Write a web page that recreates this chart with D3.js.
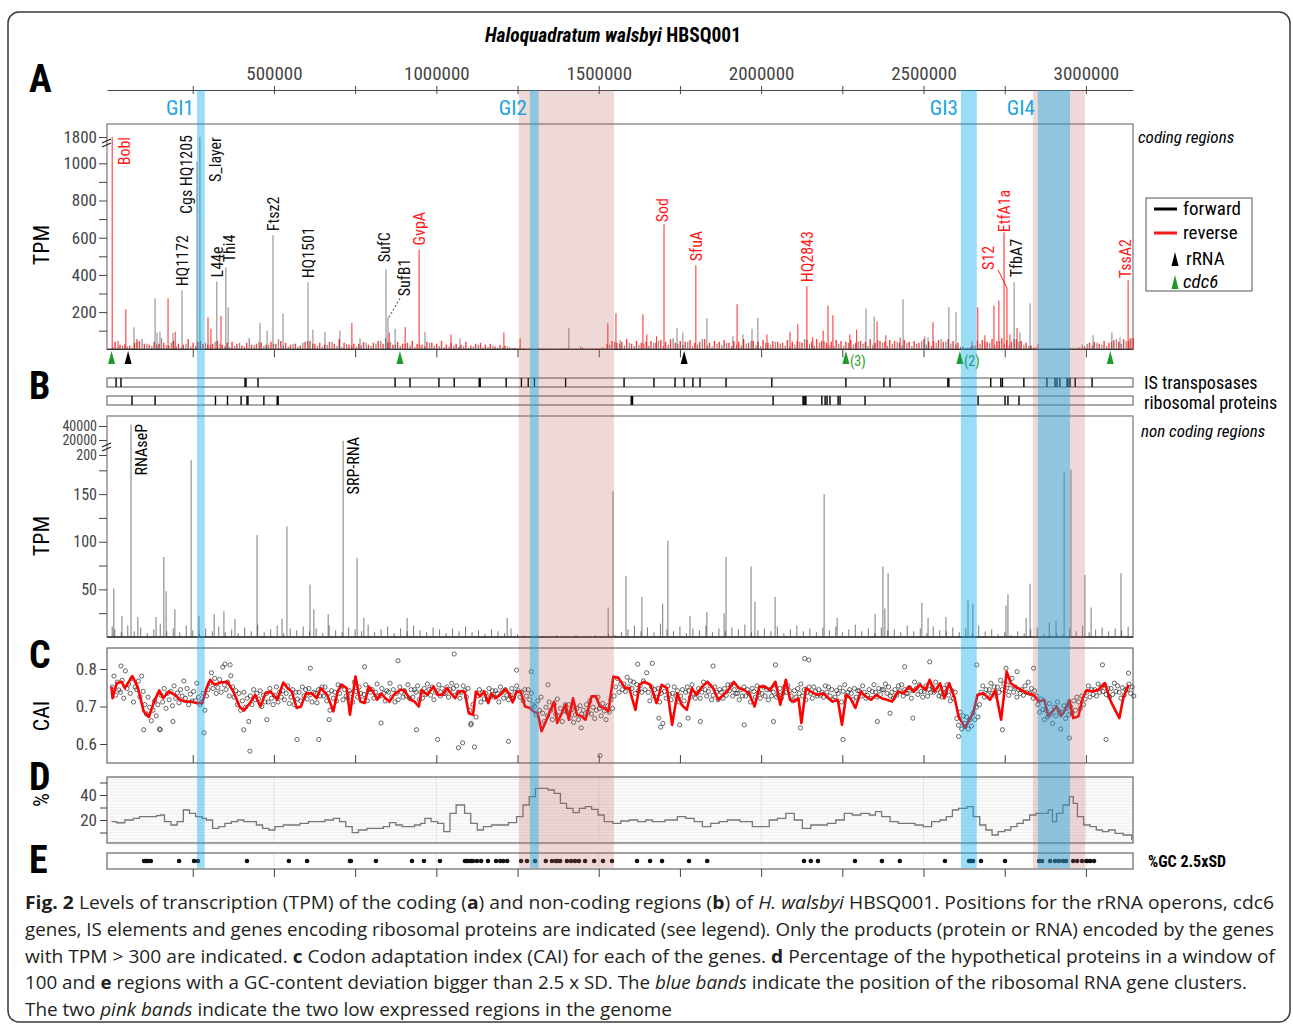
<!DOCTYPE html>
<html>
<head>
<meta charset="utf-8">
<script src="https://cdn.jsdelivr.net/npm/d3@7"></script>
<style>
  body { margin: 0; background: #fff; }
  svg text { font-family: "Liberation Sans Narrow", "Arial Narrow", "Roboto Condensed", sans-serif; }
  svg text.cap { font-family: "Open Sans", sans-serif; white-space: pre; }
</style>
</head>
<body>
<svg id="fig" width="1293" height="1025"></svg>
<script>
// ---- data (positions in kb) ----
const blueBands = [["GI1", 263, 287], ["GI2", 1288, 1315], ["GI3", 2615, 2664], ["GI4", 2852, 2951]];
const pinkBands = [[1254, 1547], [2837, 2997]];

// low level coding TPM, one value per 15 kb bin
const fwdLow = [12,8,20,15,10,40,55,30,18,25, 60,22,35,18,10,30,15,20,45,35, 25,40,30,18,12,20,35,15,60,22,
  40,18,25,30,55,20,15,28,12,35, 45,30,20,15,25,40,18,12,30,20, 15,22,35,18,28,45,60,40,25,18,
  30,20,12,25,15,35,20,18,10,15, 22,12,18,8,15,25,10,12,20,8, 10,15,6,4,3,2,5,3,2,4,
  3,2,4,6,2,3,15,4,3,5, 4,8,25,40,30,22,35,18,25,30, 20,35,45,18,25,60,30,22,40,18,
  25,55,20,15,30,22,35,18,25,20, 30,45,22,18,35,25,40,30,20,15, 25,40,55,30,20,35,45,25,18,30,
  20,35,25,40,30,18,25,50,35,20, 28,40,22,35,18,30,45,25,20,35, 55,40,30,25,15,8,12,20,30,40,
  35,25,45,30,20,55,40,25,18,10, 5,4,6,3,8,5,4,6,10,25, 30,20,35,25,18,40,55,30,45,60];
const revLow = [40,25,30,20,35,45,30,25,40,30, 35,20,45,30,25,55,35,40,30,25, 30,45,25,35,40,30,20,35,25,30,
  35,25,40,30,45,35,25,30,20,40, 45,30,35,25,40,30,55,35,25,30, 30,40,25,35,45,30,35,25,40,30,
  35,45,30,25,40,35,30,45,25,35, 30,25,40,20,30,35,25,30,15,25, 20,10,8,6,5,4,3,5,4,3,
  4,3,6,5,3,4,8,5,4,6, 10,30,45,35,40,55,30,45,35,40, 45,35,50,40,55,35,45,40,50,35,
  40,55,35,45,40,50,35,45,40,55, 35,45,40,50,35,45,40,35,50,40, 45,35,50,40,55,45,35,40,50,45,
  40,50,35,45,40,55,35,45,40,50, 45,35,50,40,45,35,55,40,45,50, 40,55,45,35,15,8,20,45,50,40,
  55,45,60,50,40,55,45,35,20,10, 6,5,8,4,6,5,7,4,8,15, 35,40,30,45,35,50,40,55,45,60];

// taller coding genes: [kb, TPM, strand 0=forward 1=reverse]
const peaks = [[2,1800,1],[20,45,1],[44,215,1],[69,118,0],[78,55,1],[134,274,0],[140,90,0],[149,95,0],[174,274,1],
  [189,88,0],[196,95,1],[217,317,0],[263,1050,0],[272,1800,0],[297,172,1],[306,110,1],[324,365,0],[337,180,1],
  [352,441,0],[359,226,0],[457,142,0],[479,100,0],[497,613,0],[528,193,0],[605,360,0],[620,105,0],[657,95,0],
  [703,100,0],[740,142,1],[765,60,0],[845,430,0],[851,172,0],[855,90,1],[873,110,0],[904,120,1],[947,537,1],
  [965,95,0],[1045,80,1],[1073,60,0],[1208,90,1],[1258,60,1],[1408,113,0],[1528,140,1],[1553,194,1],[1566,50,0],
  [1636,188,1],[1648,80,1],[1678,70,1],[1701,672,1],[1741,115,0],[1759,90,0],[1799,452,1],[1833,167,0],[1913,70,0],
  [1926,242,1],[1944,80,0],[1972,110,0],[1990,170,0],[2018,80,1],[2089,95,1],[2113,135,1],[2141,339,1],[2159,65,1],
  [2191,100,1],[2206,236,1],[2221,183,1],[2273,80,1],[2294,105,1],[2323,220,0],[2348,177,0],[2357,150,1],[2384,75,1],
  [2428,65,1],[2437,269,0],[2504,70,0],[2514,65,0],[2529,145,1],[2578,226,0],[2600,199,0],[2649,40,1],[2667,226,1],
  [2689,75,1],[2717,236,1],[2732,263,1],[2748,355,1],[2757,330,1],[2766,80,1],[2779,360,0],[2788,115,1],[2797,90,0],
  [2828,247,0],[2853,30,1],[3022,75,0],[3080,90,0],[3105,65,0],[3130,371,1],[3136,60,1]];

// gene names with TPM > 300: [name, kb, TPM, strand]
const geneLabels = [["Bobl",2,1800,1],["Cgs HQ1205",263,1050,0],["S_layer",272,1800,0],["HQ1172",217,317,0],
  ["L44e",324,365,0],["Thi4",352,441,0],["Ftsz2",497,613,0],["HQ1501",605,360,0],["SufC",845,430,0],
  ["SufB1",851,172,0],["GvpA",947,537,1],["Sod",1701,672,1],["SfuA",1799,452,1],["HQ2843",2141,339,1],
  ["S12",2757,330,1],["EtfA1a",2748,355,1],["TfbA7",2779,360,0],["TssA2",3130,371,1]];

const rRNA = [51, 1763];
const cdc6 = [[0,""],[888,""],[2261,"(3)"],[2612,"(2)"],[3075,""]];

const isGenes = [14,29,411,414,451,873,919,1008,1055,1132,1135,1215,1262,1283,1302,1398,1578,1670,1735,1763,1790,1812,
  1892,2033,2261,2378,2397,2575,2578,2707,2738,2743,2809,2880,2905,2911,2920,2942,2945,2951,2967,3019];
const riboGenes = [63,134,320,357,399,417,420,469,510,513,1600,1604,2037,2129,2132,2135,2138,2187,2197,2203,2212,
  2237,2243,2320,2668,2751,2760,2794];

// non coding TPM
const ncPeaks = [[2,11],[7,51],[32,22],[60,42000],[81,21],[137,21],[161,84],[168,48],[195,29],[245,192],[269,22],
  [316,24],[346,27],[380,19],[448,107],[525,19],[540,116],[611,55],[623,29],[667,24],[713,19000],[756,83],[777,20],
  [910,20],[1218,20],[1529,31],[1544,153],[1584,64],[1633,42],[1697,35],[1713,101],[1781,22],[1833,26],[1886,25],
  [1892,84],[1969,74],[1981,37],[2043,42],[2194,150],[2234,20],[2351,24],[2375,74],[2381,30],[2391,67],[2495,36],
  [2514,20],[2569,21],[2637,39],[2652,35],[2754,33],[2760,45],[2816,20],[2828,56],[2887,15],[2908,17],[2933,173],
  [2954,176],[2997,65],[3016,31],[3108,67]];
const ncLow = [8,5,12,6,10,4,8,14,6,9, 5,12,7,4,9,6,11,5,8,4, 10,6,13,5,8,12,4,9,7,11, 6,9,4,12,7,5,10,8,6,13,
  5,8,11,4,9,6,12,7,5,10, 8,4,9,6,11,5,7,3,8,6, 4,9,3,2,1,2,1,0,2,1, 1,2,0,1,2,1,3,2,5,8,
  12,6,10,5,14,8,6,11,4,9, 7,12,5,9,6,10,8,13,5,7, 9,6,11,4,8,12,6,9,5,10, 7,11,5,8,13,6,9,4,10,7,
  8,5,12,6,9,4,11,7,6,10, 5,9,4,12,6,8,3,5,2,6, 4,8,10,3,2,4,3,9,6,12, 5,8,10,6,9,7,11];
const ncLabels = [["RNAseP",60],["SRP-RNA",713]];

// CAI per gene, 5 genes per 25 kb bin (x1000)
const caiCloud = [752,781,730,765,744, 738,770,722,795,748, 760,735,775,712,752, 745,768,726,781,740,
  705,680,725,698,662, 690,715,675,705,640, 730,712,748,695,735, 718,740,702,755,722, 736,710,745,728,768,
  722,748,705,733,715, 740,715,762,725,705, 712,735,690,728,745, 762,790,748,775,735, 750,772,738,805,758,
  745,765,728,782,752, 725,742,705,735,690, 715,738,698,722,660, 728,705,745,718,735, 720,742,700,730,712,
  735,712,748,722,705, 730,752,712,738,725, 742,718,735,755,708, 725,745,705,738,720, 738,715,752,728,745,
  720,748,732,712,738, 735,710,745,728,752, 728,752,715,735,690, 742,722,738,715,758, 735,755,718,745,728,
  722,742,735,712,765, 740,725,752,735,718, 732,758,715,745,738, 745,722,738,760,728, 728,748,735,715,742,
  738,762,725,745,712, 735,718,752,738,725, 742,728,758,722,745, 725,745,738,755,718, 738,722,748,732,760,
  745,730,752,718,738, 742,758,728,748,735, 735,752,725,745,762, 748,730,755,738,722, 738,755,742,725,748,
  690,655,705,592,672, 728,745,712,738,720, 735,718,748,728,742, 725,742,735,712,752, 738,722,745,730,718,
  730,748,722,738,755, 742,725,738,715,745, 728,745,718,735,705, 700,678,715,690,725, 682,660,698,675,712,
  690,665,705,680,720, 675,695,660,688,705, 685,705,670,692,658, 678,695,665,702,680, 690,672,705,685,715,
  680,698,668,690,725, 695,675,708,688,665, 702,685,718,695,728, 752,775,738,760,745, 760,740,778,752,768,
  748,765,735,758,742, 755,738,768,745,790, 738,715,752,728,745, 725,748,712,735,655, 740,722,755,732,718,
  735,752,728,742,712, 728,745,715,738,752, 742,725,758,735,722, 735,748,722,738,765, 745,728,740,755,718,
  730,752,738,718,745, 738,722,748,730,758, 742,758,728,745,735, 735,718,745,728,752, 728,745,735,712,748,
  740,725,755,738,722, 735,752,728,745,718, 745,728,738,758,725, 730,748,722,735,752, 738,755,742,728,715,
  742,725,748,735,760, 728,745,718,738,752, 735,722,752,740,728, 745,730,738,725,755, 738,752,728,745,718,
  725,742,735,750,712, 740,758,728,738,745, 735,718,748,725,742, 742,728,755,738,722, 730,745,722,740,758,
  738,725,748,732,745, 745,760,735,752,728, 738,722,745,730,755, 742,758,728,745,735, 735,750,722,742,765,
  748,732,758,740,725, 740,755,728,745,738, 752,738,765,745,728, 738,725,748,735,758, 730,715,742,722,738,
  668,650,685,640,675, 655,672,640,665,648, 682,665,698,672,705, 738,755,725,745,732, 745,762,735,752,728,
  752,738,770,745,760, 742,758,730,748,775, 738,752,725,745,735, 745,730,755,738,765, 735,748,722,742,728,
  705,685,720,692,665, 690,672,708,680,655, 698,675,712,688,640, 685,702,668,695,678, 700,682,715,690,725,
  712,695,728,705,720, 738,755,725,745,732, 745,728,760,738,752, 740,758,732,748,725, 748,732,762,740,755,
  738,722,750,730,745, 745,760,735,752,728];
// scattered genes outside the main cloud: [kb, CAI]
const caiOutliers = [[29,.808],[99,.638],[150,.638],[189,.660],[285,.630],[349,.813],[365,.811],[407,.638],[426,.581],
  [478,.665],[571,.612],[612,.802],[638,.612],[670,.665],[779,.806],[830,.656],[882,.822],[939,.638],[1004,.612],
  [1055,.840],[1068,.590],[1081,.603],[1106,.651],[1222,.607],[1247,.797],[1292,.793],[1344,.758],[1446,.643],
  [1504,.569],[1620,.813],[1665,.815],[1685,.669],[1691,.645],[1749,.651],[1775,.669],[1813,.660],[1852,.808],
  [1948,.651],[2038,.660],[2044,.811],[2121,.643],[2134,.828],[2147,.824],[2252,.612],[2358,.660],[2397,.682],
  [2442,.806],[2467,.669],[2519,.819],[2608,.620],[2664,.811],[2743,.638],[2754,.802],[2788,.793],[2839,.802],
  [2949,.616],[3051,.811],[3062,.612],[3131,.789]];

// running CAI average: [kb, CAI]
const caiLine = [[0,.753],[3,.722],[16,.762],[31,.766],[41,.749],[64,.781],[80,.753],[99,.687],[115,.672],[131,.713],
  [147,.743],[159,.722],[176,.740],[195,.731],[211,.718],[227,.713],[247,.713],[262,.709],[279,.709],[294,.753],
  [304,.771],[317,.758],[336,.764],[356,.766],[375,.740],[394,.700],[407,.689],[426,.709],[442,.731],[458,.700],
  [474,.735],[490,.740],[510,.718],[529,.764],[542,.749],[555,.740],[570,.696],[583,.700],[599,.735],[616,.735],
  [632,.722],[644,.749],[664,.731],[683,.687],[696,.740],[709,.758],[724,.749],[734,.678],[751,.780],[766,.713],
  [779,.709],[792,.753],[805,.740],[818,.718],[830,.735],[843,.722],[856,.713],[869,.731],[888,.744],[901,.744],
  [920,.718],[933,.713],[946,.700],[955,.744],[972,.731],[991,.753],[1004,.731],[1019,.731],[1032,.749],[1045,.735],
  [1058,.722],[1068,.740],[1087,.740],[1100,.682],[1113,.678],[1122,.740],[1135,.727],[1147,.740],[1160,.709],
  [1170,.735],[1183,.722],[1196,.731],[1212,.746],[1224,.735],[1235,.711],[1247,.740],[1260,.740],[1273,.700],
  [1288,.696],[1299,.687],[1312,.682],[1324,.634],[1337,.660],[1350,.687],[1363,.713],[1372,.656],[1386,.682],
  [1398,.705],[1408,.665],[1421,.722],[1433,.678],[1446,.674],[1459,.665],[1478,.727],[1491,.727],[1504,.700],
  [1517,.696],[1530,.687],[1545,.780],[1562,.775],[1581,.749],[1594,.749],[1613,.691],[1626,.758],[1639,.766],
  [1659,.758],[1678,.709],[1694,.758],[1710,.749],[1726,.651],[1742,.735],[1755,.705],[1771,.691],[1787,.749],
  [1800,.731],[1819,.753],[1835,.766],[1852,.749],[1868,.718],[1884,.731],[1899,.744],[1916,.766],[1931,.749],
  [1948,.744],[1963,.735],[1980,.700],[1995,.753],[2012,.753],[2027,.744],[2044,.766],[2059,.705],[2076,.771],
  [2089,.718],[2102,.713],[2115,.722],[2124,.656],[2138,.749],[2153,.740],[2172,.731],[2192,.735],[2207,.722],
  [2220,.713],[2236,.718],[2249,.651],[2262,.731],[2275,.722],[2290,.696],[2307,.740],[2322,.727],[2339,.718],
  [2354,.731],[2371,.722],[2387,.718],[2403,.713],[2422,.740],[2438,.735],[2455,.753],[2470,.740],[2489,.758],
  [2506,.744],[2519,.771],[2534,.740],[2551,.762],[2564,.722],[2579,.762],[2596,.722],[2608,.674],[2628,.643],
  [2641,.665],[2653,.682],[2666,.731],[2685,.735],[2705,.718],[2721,.744],[2739,.665],[2756,.793],[2769,.762],
  [2782,.753],[2801,.744],[2820,.735],[2839,.731],[2855,.713],[2872,.718],[2884,.674],[2897,.687],[2910,.700],
  [2923,.674],[2936,.691],[2949,.718],[2961,.669],[2977,.674],[2990,.722],[3002,.744],[3019,.740],[3038,.744],
  [3058,.762],[3077,.713],[3090,.691],[3103,.669],[3115,.722],[3131,.758]];

// % hypothetical proteins, window of 100: [kb, %]
const hypo = [[0,18.7],[16,17.8],[41,20],[67,21.3],[86,22.7],[118,22.7],[138,23.5],[150,24],[163,18.7],[183,16],
  [202,18.7],[221,28],[240,25.3],[259,22.7],[279,21.3],[292,20],[311,13.3],[330,14.7],[349,17.3],[369,18.7],
  [388,20],[407,18.7],[426,18.7],[446,16],[465,13.3],[484,12],[503,14.7],[529,16],[555,16],[580,17.3],[606,18.7],
  [632,18.7],[657,20],[683,21.3],[702,18.7],[721,14.7],[741,9.9],[760,12],[786,13.3],[811,13.3],[837,14.7],
  [856,17.9],[875,16],[895,14.7],[914,14.7],[933,16],[952,17.3],[965,21.3],[984,18.7],[1004,17.3],[1023,10.7],
  [1042,25.3],[1061,32],[1074,32],[1087,25.3],[1106,17.3],[1126,12],[1145,14.7],[1170,16],[1196,16],[1222,17.9],
  [1247,22.7],[1267,32],[1286,38.7],[1305,45.3],[1324,45.3],[1344,44],[1363,41.3],[1382,33.3],[1401,29.3],
  [1421,25.9],[1440,29.3],[1459,30.7],[1478,28.5],[1498,24],[1517,18.7],[1543,17.3],[1568,19.2],[1594,20],
  [1620,18.7],[1645,20],[1665,18.7],[1704,20],[1742,22.7],[1768,21.3],[1794,18.7],[1819,14.7],[1845,17.3],
  [1871,18.7],[1896,20],[1935,18.7],[1973,14.7],[1999,14.7],[2025,20],[2050,21.3],[2076,25.3],[2102,20],
  [2127,13.3],[2153,16],[2179,16],[2204,17.3],[2230,20],[2256,25.3],[2281,24],[2307,25.3],[2333,24],[2352,26.7],
  [2371,22.7],[2397,18.7],[2422,17.3],[2448,17.3],[2474,16],[2499,14.7],[2525,18.7],[2551,20],[2570,22.7],
  [2589,28],[2608,29.3],[2634,30.7],[2653,22.7],[2673,16],[2692,12],[2711,8],[2730,10.7],[2750,12],[2769,14.7],
  [2788,17.3],[2807,20],[2827,24],[2846,25.3],[2865,25.3],[2884,28],[2897,18.7],[2910,25.3],[2929,32],
  [2949,38.7],[2961,33.3],[2974,22.7],[2993,16],[3013,14.7],[3032,12],[3051,10.7],[3070,12],[3090,9.3],
  [3115,8],[3141,4]];

// regions with %GC deviation > 2.5 SD
const gcDev = [100,105,109,113,121,208,254,266,417,546,602,734,737,814,925,962,1011,1088,1092,1097,1104,1108,1113,
  1125,1138,1159,1184,1197,1206,1218,1261,1279,1304,1337,1356,1368,1372,1381,1402,1415,1427,1439,1458,1486,1513,
  1541,1618,1658,1695,1778,1834,2132,2153,2175,2289,2372,2427,2566,2640,2645,2652,2677,2751,2856,2865,2890,2905,
  2917,2930,2939,2961,2973,2988,3001,3005,3013,3025];

// ---- drawing ----
const svg = d3.select("#fig");
const L = 107, R = 1133;
const x = d3.scaleLinear().domain([-14000, 3145000]).range([L, R]);
const X = kb => x(kb * 1000);
const tick250 = d3.range(250000, 3000001, 250000);
const RED = "#ff1a1a", GREEN = "#1f9a2a";

svg.append("rect").attr("x", 8).attr("y", 12).attr("width", 1282).attr("height", 1010)
  .attr("rx", 11).attr("fill", "#fff").attr("stroke", "#3a3a3a").attr("stroke-width", 1.5);

svg.append("text").attr("x", 613).attr("y", 42).attr("text-anchor", "middle")
  .attr("font-size", 19.5).attr("font-weight", "bold")
  .call(t => { t.append("tspan").attr("font-style", "italic").text("Haloquadratum walsbyi"); t.append("tspan").text(" HBSQ001"); });

[["A", 92], ["B", 399], ["C", 668], ["D", 790], ["E", 873]].forEach(d =>
  svg.append("text").attr("x", 29).attr("y", d[1]).attr("font-size", 38).attr("font-weight", "bold").text(d[0]));

// top genome axis
const topAx = svg.append("g").attr("transform", "translate(0,90)")
  .call(d3.axisTop(x).tickValues(tick250).tickFormat(d => d % 500000 ? "" : d).tickSize(4).tickSizeOuter(0).tickPadding(6));
topAx.selectAll(".tick line").attr("y1", 4);
topAx.attr("font-size", 19).attr("color", "#444");

function yLabel(txt, cy) {
  svg.append("text").attr("transform", `translate(49,${cy}) rotate(-90)`).attr("text-anchor", "middle")
    .attr("font-size", 22).text(txt);
}
function bottomTicks(y, up) {
  const g = svg.append("g").attr("transform", `translate(0,${y})`)
    .call((up ? d3.axisTop(x) : d3.axisBottom(x)).tickValues(tick250).tickFormat("").tickSize(8).tickSizeOuter(0));
  g.select(".domain").remove();
  g.attr("color", "#444");
}
function breakMark(y) {
  svg.append("path").attr("d", `M${L - 5},${y + 1}l9,-4M${L - 5},${y + 5}l9,-4`).attr("stroke", "#222")
    .attr("stroke-width", 1.3).attr("fill", "none");
}

// ---- A: coding TPM ----
const yA = d3.scaleLinear().domain([0, 1000, 1800]).range([349.3, 163.3, 137]);
svg.append("rect").attr("x", L).attr("y", 124).attr("width", R - L).attr("height", yA(0) - 124)
  .attr("fill", "none").attr("stroke", "#777").attr("stroke-width", 1.2);
const aBars = svg.append("g");
function aBar(kb, v, strand, w) {
  aBars.append("line").attr("x1", X(kb)).attr("x2", X(kb)).attr("y1", yA(0)).attr("y2", yA(v))
    .attr("stroke", strand ? RED : "#222").attr("stroke-opacity", strand ? 0.85 : 0.5).attr("stroke-width", w);
}
fwdLow.forEach((v, i) => aBar(i * 15 + 4, v, 0, 1.3));
revLow.forEach((v, i) => aBar(i * 15 + 11, v, 1, 1.4));
peaks.forEach(d => aBar(d[0], d[1], d[2], 1.1));
svg.append("line").attr("x1", L).attr("x2", R).attr("y1", yA(0)).attr("y2", yA(0)).attr("stroke", "#333").attr("stroke-width", 1.3);

const ayA = svg.append("g").attr("transform", `translate(${L},0)`)
  .call(d3.axisLeft(yA).tickValues([100, 200, 300, 400, 500, 600, 700, 800, 900, 1000, 1800])
    .tickFormat(d => d % 200 === 0 ? d : "").tickSize(8).tickSizeOuter(0).tickPadding(2));
ayA.select(".domain").remove();
ayA.attr("font-size", 17).attr("color", "#444");
breakMark(142);
yLabel("TPM", 245);
bottomTicks(yA(0), false);

// gene labels (pixel nudges for readability)
const nudge = { "Bobl": { dx: 12, top: 137 }, "Cgs HQ1205": { dx: -11, top: 135 }, "S_layer": { dx: 15, top: 137 },
  "Thi4": { dx: 3, gap: 5 }, "SufC": { dx: -2, gap: 7 }, "SufB1": { dx: 16, gap: 21, lead: "dash" },
  "S12": { dx: -19, gap: 18, lead: "slant" }, "EtfA1a": { dx: 0, gap: 51, lead: "up" }, "TfbA7": { dx: 2, gap: 5 },
  "TssA2": { dx: -3, gap: 2 }, "Sod": { dx: -2, gap: 2 } };
geneLabels.forEach(d => {
  const n = nudge[d[0]] || { dx: 0, gap: 4 };
  const bx = X(d[1]), by = yA(d[2]), col = d[3] ? RED : "#111";
  const t = svg.append("text").attr("font-size", 16).attr("fill", col).text(d[0]);
  if (n.top !== undefined) {
    t.attr("text-anchor", "end").attr("transform", `translate(${bx + n.dx + 6},${n.top}) rotate(-90)`);
  } else {
    t.attr("transform", `translate(${bx + n.dx + 6},${by - n.gap}) rotate(-90)`);
  }
  if (n.lead === "dash") svg.append("line").attr("x1", bx + 1).attr("y1", by).attr("x2", bx + 12).attr("y2", by - 19)
    .attr("stroke", "#333").attr("stroke-dasharray", "2,2");
  if (n.lead === "slant") svg.append("line").attr("x1", bx).attr("y1", by).attr("x2", bx - 9).attr("y2", by - 18)
    .attr("stroke", col);
  if (n.lead === "up") svg.append("line").attr("x1", bx).attr("y1", by).attr("x2", bx).attr("y2", by - n.gap)
    .attr("stroke", col);
});

// rRNA and cdc6 markers
const tri = (cx, yb, w, h) => `M${cx - w / 2},${yb}L${cx + w / 2},${yb}L${cx},${yb - h}Z`;
rRNA.forEach(kb => svg.append("path").attr("d", tri(X(kb), 364, 7, 13)).attr("fill", "#000"));
cdc6.forEach(d => {
  svg.append("path").attr("d", tri(X(d[0]), 364, 7, 13)).attr("fill", GREEN);
  if (d[1]) svg.append("text").attr("x", X(d[0]) + 4).attr("y", 366).attr("font-size", 14).attr("fill", GREEN).text(d[1]);
});

svg.append("text").attr("x", 1138).attr("y", 143).attr("font-size", 17).attr("font-style", "italic").text("coding regions");

// legend
const lg = svg.append("g");
lg.append("rect").attr("x", 1146).attr("y", 198).attr("width", 106).attr("height", 93).attr("fill", "#fff").attr("stroke", "#555");
[["forward", "#000", 209], ["reverse", RED, 233]].forEach(d => {
  lg.append("line").attr("x1", 1154).attr("x2", 1177).attr("y1", d[2]).attr("y2", d[2]).attr("stroke", d[1]).attr("stroke-width", 3);
  lg.append("text").attr("x", 1183).attr("y", d[2] + 6).attr("font-size", 19).text(d[0]);
});
lg.append("path").attr("d", tri(1175, 266, 7, 14)).attr("fill", "#000");
lg.append("text").attr("x", 1186).attr("y", 265).attr("font-size", 19).text("rRNA");
lg.append("path").attr("d", tri(1175, 289, 7, 14)).attr("fill", GREEN);
lg.append("text").attr("x", 1183).attr("y", 288).attr("font-size", 19).attr("font-style", "italic").text("cdc6");

// ---- B: IS elements / ribosomal proteins ----
[[isGenes, 378, "IS transposases", 389], [riboGenes, 396, "ribosomal proteins", 409]].forEach(r => {
  svg.append("rect").attr("x", L).attr("y", r[1]).attr("width", R - L).attr("height", 9).attr("fill", "none").attr("stroke", "#555");
  svg.append("g").selectAll("line").data(r[0]).join("line")
    .attr("x1", d => X(d)).attr("x2", d => X(d)).attr("y1", r[1]).attr("y2", r[1] + 9).attr("stroke", "#000").attr("stroke-width", 1.4);
  svg.append("text").attr("x", 1144).attr("y", r[3]).attr("font-size", 18).text(r[2]);
});

// ---- B: non coding TPM ----
const yB = d3.scaleLinear().domain([0, 175, 200, 20000, 40000]).range([637, 470.3, 455, 440, 426]);
svg.append("rect").attr("x", L).attr("y", 416).attr("width", R - L).attr("height", 221)
  .attr("fill", "none").attr("stroke", "#777").attr("stroke-width", 1.2);
const bBars = svg.append("g");
function bBar(kb, v) {
  bBars.append("line").attr("x1", X(kb)).attr("x2", X(kb)).attr("y1", yB(0)).attr("y2", yB(v))
    .attr("stroke", "#333").attr("stroke-opacity", 0.65).attr("stroke-width", 1);
}
ncLow.forEach((v, i) => bBar(i * 20 + 10, v));
ncPeaks.forEach(d => bBar(d[0], d[1]));
svg.append("line").attr("x1", L).attr("x2", R).attr("y1", yB(0)).attr("y2", yB(0)).attr("stroke", "#333").attr("stroke-width", 1.3);
const ayB = svg.append("g").attr("transform", `translate(${L},0)`)
  .call(d3.axisLeft(yB).tickValues([25, 50, 75, 100, 125, 150, 175, 200, 20000, 40000])
    .tickFormat(d => (d % 50 === 0) ? d : "").tickSize(8).tickSizeOuter(0).tickPadding(2));
ayB.select(".domain").remove();
ayB.attr("font-size", 16).attr("color", "#444");
ayB.selectAll(".tick text").filter(d => d >= 200).attr("font-size", 14);
breakMark(446);
yLabel("TPM", 536);
ncLabels.forEach(d => svg.append("text").attr("font-size", 16).attr("text-anchor", "end")
  .attr("transform", `translate(${X(d[1]) + 16},${d[0] === "RNAseP" ? 424 : 437}) rotate(-90)`).text(d[0]));
svg.append("text").attr("x", 1141).attr("y", 437).attr("font-size", 17).attr("font-style", "italic").text("non coding regions");

// ---- C: CAI ----
const yC = d3.scaleLinear().domain([0.6, 0.8]).range([744, 669]);
svg.append("rect").attr("x", L).attr("y", 648).attr("width", R - L).attr("height", 115)
  .attr("fill", "none").attr("stroke", "#666").attr("stroke-width", 1.2);
const cPts = svg.append("g").attr("fill", "none").attr("stroke", "#222").attr("stroke-width", 0.8).attr("stroke-opacity", 0.85);
cPts.selectAll("circle.c").data(caiCloud).join("circle").attr("class", "c")
  .attr("cx", (d, j) => X(Math.floor(j / 5) * 25 + (j % 5) * 5 + 2.5)).attr("cy", d => yC(d / 1000)).attr("r", 2.1);
cPts.selectAll("circle.o").data(caiOutliers).join("circle").attr("class", "o")
  .attr("cx", d => X(d[0])).attr("cy", d => yC(d[1])).attr("r", 2.1);
svg.append("path").datum(caiLine)
  .attr("d", d3.line().x(d => X(d[0])).y(d => yC(d[1])))
  .attr("fill", "none").attr("stroke", "#ff0000").attr("stroke-width", 2.6).attr("stroke-linejoin", "round");
const ayC = svg.append("g").attr("transform", `translate(${L},0)`)
  .call(d3.axisLeft(yC).tickValues([0.6, 0.7, 0.8]).tickFormat(d3.format(".1f")).tickSize(7).tickSizeOuter(0).tickPadding(3));
ayC.select(".domain").remove();
ayC.attr("font-size", 17).attr("color", "#444");
yLabel("CAI", 716);
bottomTicks(763, true);

// ---- D: % hypothetical proteins ----
const yD = d3.scaleLinear().domain([20, 40]).range([820, 795]);
svg.append("rect").attr("x", L).attr("y", 777).attr("width", R - L).attr("height", 66).attr("fill", "#fbfbfb");
svg.append("g").selectAll("line").data(d3.range(0, 55, 2.5)).join("line")
  .attr("x1", L).attr("x2", R).attr("y1", d => yD(d)).attr("y2", d => yD(d)).attr("stroke", "#efefef");
svg.append("g").selectAll("line").data([500000, 1000000, 1500000, 2000000, 2500000, 3000000]).join("line")
  .attr("x1", d => x(d)).attr("x2", d => x(d)).attr("y1", 777).attr("y2", 843).attr("stroke", "#e4e4e4");
svg.append("rect").attr("x", L).attr("y", 777).attr("width", R - L).attr("height", 66)
  .attr("fill", "none").attr("stroke", "#666").attr("stroke-width", 1.2);
svg.append("path").datum(hypo)
  .attr("d", d3.line().x(d => X(d[0])).y(d => yD(d[1])).curve(d3.curveStepAfter))
  .attr("fill", "none").attr("stroke", "#777").attr("stroke-width", 1.3);
const ayD = svg.append("g").attr("transform", `translate(${L},0)`)
  .call(d3.axisLeft(yD).tickValues([10, 20, 30, 40, 50]).tickFormat(d => d % 20 === 0 ? d : "").tickSize(7).tickSizeOuter(0).tickPadding(3));
ayD.select(".domain").remove();
ayD.attr("font-size", 17).attr("color", "#444");
yLabel("%", 800);

// ---- E: GC deviation ----
svg.append("g").selectAll("line").data([500000, 1000000, 1500000, 2000000, 2500000, 3000000]).join("line")
  .attr("x1", d => x(d)).attr("x2", d => x(d)).attr("y1", 853).attr("y2", 869).attr("stroke", "#e8e8e8");
svg.append("rect").attr("x", L).attr("y", 853).attr("width", R - L).attr("height", 16)
  .attr("fill", "none").attr("stroke", "#666").attr("stroke-width", 1.2);
svg.append("g").selectAll("circle").data(gcDev).join("circle")
  .attr("cx", d => X(d)).attr("cy", 861).attr("r", 2.3).attr("fill", "#111");
bottomTicks(869, false);
svg.append("text").attr("x", 1148).attr("y", 867).attr("font-size", 16).attr("font-weight", "bold").text("%GC 2.5xSD");

// ---- bands on top ----
pinkBands.forEach(b => svg.append("rect").attr("x", X(b[0])).attr("y", 90).attr("width", X(b[1]) - X(b[0]))
  .attr("height", 778).attr("fill", "rgb(190,90,90)").attr("fill-opacity", 0.24));
blueBands.forEach(b => {
  svg.append("rect").attr("x", X(b[1])).attr("y", 90).attr("width", X(b[2]) - X(b[1]))
    .attr("height", 778).attr("fill", "rgb(0,170,232)").attr("fill-opacity", 0.4);
  svg.append("text").attr("x", X(b[1]) - 3).attr("y", 115).attr("text-anchor", "end")
    .attr("font-size", 21).attr("fill", "#1aa3e3").text(b[0]);
});

// ---- caption ----
const caption = [
  [[["Fig. 2", "b"], [" Levels of transcription (TPM) of the coding (", ""], ["a", "b"], [") and non-coding regions (", ""], ["b", "b"], [") of ", ""], ["H. walsbyi", "i"], [" HBSQ001. Positions for the rRNA operons, cdc6", ""]], 1249],
  [[["genes, IS elements and genes encoding ribosomal proteins are indicated (see legend). Only the products (protein or RNA) encoded by the genes", ""]], 1249],
  [[["with TPM > 300 are indicated. ", ""], ["c", "b"], [" Codon adaptation index (CAI) for each of the genes. ", ""], ["d", "b"], [" Percentage of the hypothetical proteins in a window of", ""]], 1250],
  [[["100 and ", ""], ["e", "b"], [" regions with a GC-content deviation bigger than 2.5 x SD. The ", ""], ["blue bands", "i"], [" indicate the position of the ribosomal RNA gene clusters.", ""]], 1222],
  [[["The two ", ""], ["pink bands", "i"], [" indicate the two low expressed regions in the genome", ""]], 647]
];
caption.forEach((ln, i) => {
  const t = svg.append("text").attr("class", "cap").attr("x", 25).attr("y", 909 + i * 26.8).attr("font-size", 18.5)
    .attr("fill", "#231f20").attr("textLength", ln[1]).attr("lengthAdjust", "spacingAndGlyphs");
  ln[0].forEach(s => t.append("tspan").attr("font-weight", s[1] === "b" ? "bold" : null)
    .attr("font-style", s[1] === "i" ? "italic" : null).text(s[0]));
});
</script>
</body>
</html>
